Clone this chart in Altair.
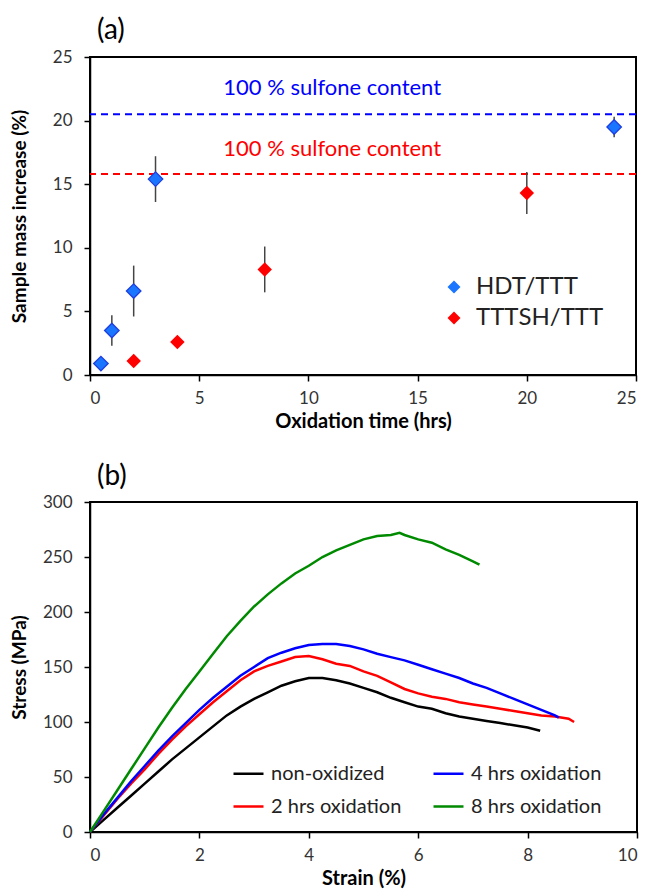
import altair as alt
import pandas as pd

FONT = "Lato"

# ---------- panel (a) data ----------
hdt_time = [0.5, 1, 2, 3, 24]
hdt_mass = [0.9, 3.5, 6.6, 15.4, 19.5]
hdt_err = [0.0, 1.2, 2.0, 1.8, 0.8]
tttsh_time = [2, 4, 8, 20]
tttsh_mass = [1.1, 2.6, 8.3, 14.3]
tttsh_err = [0.0, 0.0, 1.8, 1.65]
sulfone_hdt = 20.5
sulfone_tttsh = 15.8
series_a = ["HDT/TTT", "TTTSH/TTT"]
colors_a = ["#1a75ff", "#ff0000"]

# ---------- panel (b) data ----------
black_strain = [0, 0.25, 0.5, 0.75, 1, 1.25, 1.5, 1.75, 2, 2.25, 2.5, 2.75, 3, 3.25, 3.5, 3.75, 4, 4.25,
                4.5, 4.75, 5, 5.25, 5.5, 5.75, 6, 6.25, 6.5, 6.75, 7, 7.25, 7.5, 7.75, 8, 8.23]
black_stress = [0, 11, 22, 33, 44, 55, 66, 76, 86, 96, 106, 114, 121, 127, 133, 137, 140, 140,
                138, 135, 131, 127, 122, 118, 114, 112, 108, 105, 103, 101, 99, 97, 95, 92]
red_strain = [0, 0.25, 0.5, 0.75, 1, 1.25, 1.5, 1.75, 2, 2.25, 2.5, 2.75, 3, 3.25, 3.5, 3.75, 4, 4.25,
              4.5, 4.75, 5, 5.25, 5.5, 5.75, 6, 6.25, 6.5, 6.75, 7, 7.25, 7.5, 7.75, 8, 8.25, 8.5, 8.75, 8.85]
red_stress = [0, 15, 30, 44, 57, 71, 84, 96, 107, 118, 128, 138, 146, 151, 155, 159, 160, 157,
              153, 151, 146, 142, 136, 130, 126, 123, 121, 118, 116, 114, 112, 110, 108, 106, 105, 103, 100]
blue_strain = [0, 0.25, 0.5, 0.75, 1, 1.25, 1.5, 1.75, 2, 2.25, 2.5, 2.75, 3, 3.25, 3.5, 3.75, 4, 4.25,
               4.5, 4.75, 5, 5.25, 5.5, 5.75, 6, 6.25, 6.5, 6.75, 7, 7.25, 7.5, 7.75, 8, 8.25, 8.5, 8.57]
blue_stress = [0, 16, 31, 46, 60, 74, 87, 99, 111, 122, 132, 142, 150, 158, 163, 167, 170, 171,
               171, 169, 166, 162, 159, 156, 152, 148, 144, 140, 135, 131, 126, 121, 116, 111, 106, 104]
green_strain = [0, 0.25, 0.5, 0.75, 1, 1.25, 1.5, 1.75, 2, 2.25, 2.5, 2.75, 3, 3.25, 3.5, 3.75, 4, 4.25,
                4.5, 4.75, 5, 5.25, 5.5, 5.66, 5.75, 6, 6.25, 6.5, 6.75, 7, 7.12]
green_stress = [0, 19, 38, 57, 76, 95, 113, 130, 146, 162, 178, 192, 205, 216, 226, 235, 242, 250,
                256, 261, 266, 269, 270, 272, 270, 266, 263, 257, 252, 246, 243]
series_b = ["non-oxidized", "2 hrs oxidation", "4 hrs oxidation", "8 hrs oxidation"]
colors_b = ["#000000", "#ff0000", "#0000ff", "#008a00"]

# ---------- tables ----------
pts = pd.DataFrame(
    [{"t": t, "m": m, "e": e, "s": series_a[0]} for t, m, e in zip(hdt_time, hdt_mass, hdt_err)]
    + [{"t": t, "m": m, "e": e, "s": series_a[1]} for t, m, e in zip(tttsh_time, tttsh_mass, tttsh_err)]
)
pts["lo"] = pts["m"] - pts["e"]
pts["hi"] = pts["m"] + pts["e"]

curves = pd.DataFrame(
    [{"x": x, "y": y, "s": series_b[0], "o": i} for i, (x, y) in enumerate(zip(black_strain, black_stress))]
    + [{"x": x, "y": y, "s": series_b[1], "o": i} for i, (x, y) in enumerate(zip(red_strain, red_stress))]
    + [{"x": x, "y": y, "s": series_b[2], "o": i} for i, (x, y) in enumerate(zip(blue_strain, blue_stress))]
    + [{"x": x, "y": y, "s": series_b[3], "o": i} for i, (x, y) in enumerate(zip(green_strain, green_stress))]
)

axis_common = dict(grid=False, domainColor="black", domainWidth=1.5, tickColor="black", tickWidth=1.5,
                   tickSize=6, labelFont=FONT, labelFontSize=17, labelColor="#333333",
                   titleFont=FONT, titleFontWeight="bold", titleColor="black")


def xaxis(vals, title):
    return alt.Axis(values=vals, title=title, labelPadding=9, titlePadding=5, titleFontSize=20, **axis_common)


def yaxis(vals, title):
    return alt.Axis(values=vals, title=title, labelPadding=12, titleFontSize=19, titleX=-61, **axis_common)


def panel_title(txt, offset):
    return alt.TitleParams(txt, anchor="start", frame="group", dx=7, fontSize=28, fontWeight="normal",
                           font=FONT, color="black", offset=offset)


# ---------- panel (a) ----------
xa = alt.X("t:Q", scale=alt.Scale(domain=[0, 25], nice=False),
           axis=xaxis([0, 5, 10, 15, 20, 25], "Oxidation time (hrs)"))
ya = alt.Y("m:Q", scale=alt.Scale(domain=[0, 25], nice=False),
           axis=yaxis([0, 5, 10, 15, 20, 25], "Sample mass increase (%)"))

errs = alt.Chart(pts).transform_filter("datum.e > 0").mark_rule(color="#444444", strokeWidth=1.5).encode(
    x="t:Q", y="lo:Q", y2="hi:Q")
dots = alt.Chart(pts).mark_point(shape="diamond", filled=True, size=210, opacity=1).encode(
    x=xa, y=ya,
    color=alt.Color("s:N", scale=alt.Scale(domain=series_a, range=colors_a),
                    legend=alt.Legend(title=None, orient="none", legendX=352, legendY=218,
                                      symbolType="diamond", symbolSize=170, symbolStrokeWidth=0,
                                      labelFont=FONT, labelFontSize=24, labelColor="#222222",
                                      labelOffset=10, rowPadding=7)))
outline = alt.Chart(pts).transform_filter(alt.datum.s == series_a[0]).mark_point(
    shape="diamond", filled=False, size=210, stroke="#1f3fe0", strokeWidth=1.3, opacity=1).encode(
    x="t:Q", y="m:Q")
hline_df = pd.DataFrame({"y": [sulfone_hdt, sulfone_tttsh], "c": ["#0000ff", "#ff0000"]})
hlines = alt.Chart(hline_df).mark_rule(strokeDash=[7, 5], strokeWidth=2).encode(
    y="y:Q", color=alt.Color("c:N", scale=None))
lab_df = pd.DataFrame({"x": [6.1, 6.1], "y": [22.6, 17.8], "txt": ["100 % sulfone content"] * 2,
                       "c": ["#0000ff", "#ff0000"]})
labels = alt.Chart(lab_df).mark_text(align="left", baseline="middle", font=FONT, fontSize=22).encode(
    x="x:Q", y="y:Q", text="txt:N", color=alt.Color("c:N", scale=None))

panel_a = alt.layer(hlines, labels, errs, dots, outline).properties(
    width=546, height=318, title=panel_title("(a)", 3))

# ---------- panel (b) ----------
xb = alt.X("x:Q", scale=alt.Scale(domain=[0, 10], nice=False),
           axis=xaxis([0, 2, 4, 6, 8, 10], "Strain (%)"))
yb = alt.Y("y:Q", scale=alt.Scale(domain=[0, 300], nice=False),
           axis=yaxis([0, 50, 100, 150, 200, 250, 300], "Stress (MPa)"))
lines = alt.Chart(curves).mark_line(strokeWidth=2.5).encode(
    x=xb, y=yb, order="o:Q",
    color=alt.Color("s:N", sort=series_b, scale=alt.Scale(domain=series_b, range=colors_b),
                    legend=alt.Legend(title=None, orient="none", legendX=142, legendY=255, columns=2,
                                      symbolType="stroke", symbolSize=900, symbolStrokeWidth=2.5,
                                      labelFont=FONT, labelFontSize=20, labelColor="#222222",
                                      labelOffset=6, columnPadding=26, rowPadding=6)))
panel_b = lines.properties(width=547, height=330, title=panel_title("(b)", 2))

chart = alt.vconcat(panel_a, panel_b, spacing=30).resolve_scale(color="independent").configure_view(
    stroke="black", strokeWidth=2).properties(padding={"left": 1, "top": 8, "right": 5, "bottom": 0})

chart.save("out.html", embed_options={"renderer": "svg", "actions": False})
